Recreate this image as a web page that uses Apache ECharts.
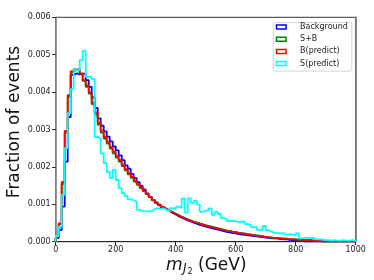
<!DOCTYPE html>
<html><head><meta charset="utf-8">
<script src="https://cdn.jsdelivr.net/npm/echarts@6/dist/echarts.min.js"></script>
<style>html,body{margin:0;padding:0;background:#fff}#c{width:374px;height:280px}</style>
</head><body><div id="c"></div>
<script>
// bin edges: 0..1000 GeV, 10 GeV bins
const binWidth = 10;
const xTicks = [0, 200, 400, 600, 800, 1000];
const yTicks = [0, 0.001, 0.002, 0.003, 0.004, 0.005, 0.006];

const background = [
0.00010,0.00031,0.00094,0.00214,0.00333,0.00446,0.00450,0.00447,0.00449,0.00450,
0.00432,0.00414,0.00386,0.00358,0.00330,0.00310,0.00295,0.00281,0.00268,0.00255,
0.00244,0.00231,0.00218,0.00204,0.00195,0.00181,0.00170,0.00159,0.00149,0.00140,
0.00129,0.00120,0.00111,0.00104,0.00098,0.00092,0.00087,0.00082,0.00077,0.00073,
0.00068,0.00064,0.00061,0.00057,0.00054,0.00051,0.00048,0.00045,0.00043,0.00040,
0.00038,0.00036,0.00034,0.00032,0.00030,0.00028,0.00026,0.00025,0.00023,0.00022,
0.00020,0.00019,0.00018,0.00017,0.00016,0.00015,0.00014,0.00013,0.00012,0.00011,
0.00010,0.00009,0.00009,0.00008,0.00007,0.00006,0.00006,0.00005,0.00004,0.00004,
0.00003,0.00002,0,0,0,0,0,0,0,0,
0,0,0,0,0,0,0,0,0,0];

const splusb = [
0.00011,0.00047,0.00155,0.00292,0.00388,0.00452,0.00461,0.00461,0.00448,0.00430,
0.00414,0.00396,0.00368,0.00340,0.00313,0.00292,0.00276,0.00262,0.00249,0.00236,
0.00225,0.00214,0.00202,0.00191,0.00180,0.00171,0.00161,0.00152,0.00143,0.00135,
0.00127,0.00119,0.00112,0.00105,0.00099,0.00093,0.00088,0.00083,0.00079,0.00075,
0.00071,0.00067,0.00064,0.00060,0.00057,0.00054,0.00052,0.00049,0.00047,0.00044,
0.00042,0.00040,0.00038,0.00036,0.00034,0.00032,0.00030,0.00029,0.00027,0.00026,
0.00024,0.00023,0.00022,0.00020,0.00019,0.00018,0.00017,0.00016,0.00015,0.00013,
0.00012,0.00011,0.00010,0.00010,0.00009,0.00008,0.00008,0.00007,0.00006,0.00006,
0.00005,0.00005,0.00004,0.00004,0.00004,0.00003,0.00003,0.00002,0,0,
0,0,0,0,0,0,0,0,0,0];

const bpredict = [
0.00012,0.00049,0.00160,0.00296,0.00392,0.00456,0.00459,0.00460,0.00450,0.00432,
0.00418,0.00400,0.00372,0.00345,0.00318,0.00297,0.00280,0.00267,0.00253,0.00240,
0.00229,0.00218,0.00205,0.00194,0.00183,0.00174,0.00163,0.00154,0.00145,0.00137,
0.00128,0.00120,0.00112,0.00105,0.00099,0.00093,0.00088,0.00083,0.00078,0.00074,
0.00070,0.00066,0.00063,0.00059,0.00056,0.00053,0.00050,0.00048,0.00045,0.00043,
0.00041,0.00039,0.00037,0.00035,0.00033,0.00031,0.00029,0.00028,0.00026,0.00025,
0.00023,0.00022,0.00021,0.00020,0.00019,0.00017,0.00016,0.00015,0.00014,0.00013,
0.00012,0.00011,0.00010,0.00010,0.00009,0.00008,0.00008,0.00007,0.00006,0.00006,
0.00005,0.00005,0.00004,0.00004,0.00004,0.00003,0.00003,0.00002,0,0,
0,0,0,0,0,0,0,0,0,0];

const spredict = [
0.00015,0.00040,0.00125,0.00250,0.00344,0.00408,0.00459,0.00459,0.00486,0.00510,
0.00441,0.00440,0.00434,0.00280,0.00276,0.00236,0.00210,0.00187,0.00170,0.00192,
0.00165,0.00143,0.00130,0.00122,0.00113,0.00111,0.00106,0.00085,0.00082,0.00081,
0.00081,0.00082,0.00087,0.00090,0.00088,0.00089,0.00085,0.00081,0.00090,0.00087,
0.00094,0.00090,0.00115,0.00078,0.00116,0.00104,0.00110,0.00100,0.00080,0.00083,
0.00083,0.00089,0.00072,0.00080,0.00074,0.00063,0.00061,0.00055,0.00055,0.00055,
0.00052,0.00054,0.00054,0.00047,0.00045,0.00039,0.00039,0.00032,0.00032,0.00042,
0.00030,0.00027,0.00023,0.00023,0.00022,0.00023,0.00018,0.00020,0.00019,0.00016,
0.00022,0.00009,0.00010,0.00010,0.00010,0.00010,0.00006,0.00006,0.00006,0.00004,
0.00004,0.00003,0.00004,0.00003,0.00003,0.00004,0.00003,0.00003,0.00004,0.00003];

const seriesNames = ['Background', 'S+B', 'B(predict)', 'S(predict)'];
const seriesValues = [background, splusb, bpredict, spredict];
const seriesColors = ['#0000ff', '#008000', '#ff0000', '#00ffff'];

function stepData(vals) {
  const pts = [[0, 0]];
  vals.forEach((v, i) => pts.push([i * binWidth, v]));
  pts.push([vals.length * binWidth, vals[vals.length - 1]]);
  pts.push([vals.length * binWidth, 0]);
  return pts;
}

const chart = echarts.init(document.getElementById('c'), null, {renderer: 'canvas'});
const FONT = 'DejaVu Sans';
chart.setOption({
  animation: false,
  backgroundColor: '#fff',
  grid: {left: 55.7, top: 17.3, width: 300, height: 224.4, show: true, borderColor: '#333', borderWidth: 1, backgroundColor: 'transparent'},
  xAxis: {
    type: 'value', min: 0, max: 1000, interval: 200,
    axisLine: {show: true, lineStyle: {color: '#222', width: 1}},
    axisTick: {show: true, length: 3.5, lineStyle: {color: '#222'}},
    axisLabel: {margin: 4, color: '#222', fontFamily: FONT, fontSize: 8,
      formatter: v => xTicks.includes(v) ? String(v) : ''},
    splitLine: {show: false}
  },
  yAxis: [{
    type: 'value', min: 0, max: 0.006, interval: 0.001,
    axisLine: {show: true, lineStyle: {color: '#888', width: 1.6}},
    axisTick: {show: true, length: 3.5, lineStyle: {color: '#222'}},
    axisLabel: {margin: 5, color: '#222', fontFamily: FONT, fontSize: 8,
      formatter: v => v.toFixed(3)},
    splitLine: {show: false}
  }, {
    type: 'value', min: 0, max: 0.006, interval: 0.001, position: 'right',
    axisLine: {show: true, lineStyle: {color: '#777', width: 1.6}},
    axisTick: {show: false}, axisLabel: {show: false}, splitLine: {show: false}
  }],
  legend: {
    orient: 'vertical', left: 273.3, top: 22.5,
    padding: [0.5, 4, 3.5, 2.4],
    itemWidth: 9.6, itemHeight: 4, itemGap: 4.2,
    borderColor: '#ccc', borderWidth: 0.8, borderRadius: 2, backgroundColor: '#fff',
    textStyle: {fontFamily: FONT, fontSize: 8, lineHeight: 8, color: '#222', padding: [0, 0, 0, 9]},
    data: seriesNames.map((n, i) => ({name: n, icon: 'rect',
      itemStyle: {color: 'transparent', borderColor: seriesColors[i], borderWidth: 1.5}}))
  },
  series: seriesNames.map((n, i) => ({
    name: n, type: 'line', step: 'end', showSymbol: false, symbol: 'none',
    data: stepData(seriesValues[i]),
    lineStyle: {color: seriesColors[i], width: 1.8},
    itemStyle: {color: seriesColors[i]},
    z: 2 + i
  })),
  graphic: [
    {type: 'text', x: 15, y: 122, rotation: Math.PI / 2,
      style: {text: 'Fraction of events', font: '17px "DejaVu Sans"', fill: '#111', textAlign: 'center', textVerticalAlign: 'middle'}},
    {type: 'text', x: 166, y: 266, style: {text: 'm', font: 'italic 17px "DejaVu Sans"', fill: '#111', textAlign: 'left', textVerticalAlign: 'middle'}},
    {type: 'text', x: 183, y: 268.5, style: {text: 'J', font: 'italic 12px "DejaVu Sans"', fill: '#111', textAlign: 'left', textVerticalAlign: 'middle'}},
    {type: 'text', x: 187.5, y: 272, style: {text: '2', font: '8px "DejaVu Sans"', fill: '#111', textAlign: 'left', textVerticalAlign: 'middle'}},
    {type: 'text', x: 198, y: 266, style: {text: '(GeV)', font: '17px "DejaVu Sans"', fill: '#111', textAlign: 'left', textVerticalAlign: 'middle'}}
  ]
});
</script></body></html>
